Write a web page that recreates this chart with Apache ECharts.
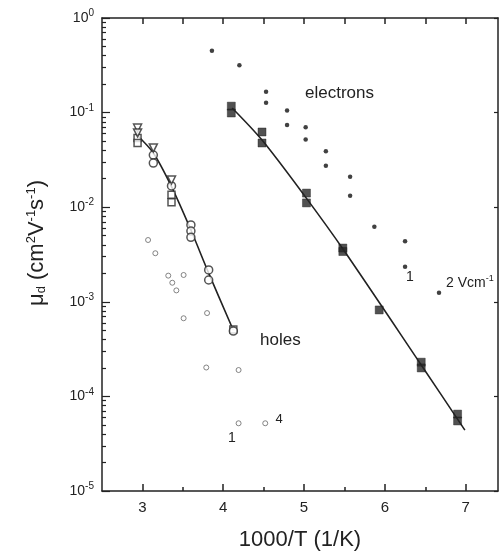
<!DOCTYPE html>
<html><head><meta charset="utf-8">
<script src="https://cdn.jsdelivr.net/npm/echarts@6/dist/echarts.min.js"></script>
<style>html,body{margin:0;padding:0;background:#fff}#c{width:500px;height:554px}</style>
</head><body><div id="c"></div>
<script>
// ---- data ----
const xMajorTicks = [3, 4, 5, 6, 7];
const xMinorTicks = [3.5, 4.5, 5.5, 6.5];
const yMajorTicks = [1e-5, 1e-4, 1e-3, 1e-2, 1e-1, 1];
const yMinorTicks = [2e-5,3e-5,4e-5,5e-5,6e-5,7e-5,8e-5,9e-5,
                     2e-4,3e-4,4e-4,5e-4,6e-4,7e-4,8e-4,9e-4,
                     2e-3,3e-3,4e-3,5e-3,6e-3,7e-3,8e-3,9e-3,
                     2e-2,3e-2,4e-2,5e-2,6e-2,7e-2,8e-2,9e-2,
                     0.2,0.3,0.4,0.5,0.6,0.7,0.8,0.9];

// electrons: fitted curve, measured points (filled squares), other-field dots
const electronFit = [[4.11,0.112],[4.48,0.0513],[5.01,0.0131],[5.49,0.00353],[6.45,2.15e-4],[6.99,4.4e-5]];
const electronSquares = [[4.10,0.117],[4.10,0.099],[4.48,0.0624],[4.48,0.0477],[5.03,0.0141],[5.03,0.0111],
                         [5.48,0.0037],[5.48,0.0034],[5.93,8.2e-4],[6.45,2.3e-4],[6.45,2.0e-4],[6.90,6.5e-5],[6.90,5.5e-5]];
const electronDots = [[3.86,0.45],[4.20,0.316],[4.53,0.166],[4.53,0.127],[4.79,0.105],[4.79,0.074],
                      [5.02,0.070],[5.02,0.052],[5.27,0.039],[5.27,0.0275],[5.57,0.021],[5.57,0.0132],
                      [5.87,0.0062],[6.25,0.00436],[6.25,0.00235],[6.67,0.00125]];

// holes: fitted curve, measured points (open triangles, squares, circles), other-field open circles
const holeFit = [[2.92,0.0594],[3.135,0.0374],[3.36,0.0165],[3.60,0.00574],[3.82,0.00201],[4.125,5.0e-4]];
const holeTriangles = [[2.94,0.0687],[2.94,0.061],[3.135,0.0423],[3.36,0.0194]];
const holeSquares = [[2.94,0.054],[2.94,0.0477],[3.36,0.0135],[3.36,0.0113],[4.125,5.1e-4]];
const holeCircles = [[3.135,0.0356],[3.135,0.0293],[3.36,0.0168],[3.60,0.0065],[3.60,0.0056],[3.60,0.0048],
                     [3.82,0.00217],[3.82,0.0017],[4.125,4.9e-4]];
const holeSmall = [[3.07,0.0045],[3.16,0.00326],[3.32,0.00189],[3.51,0.00192],[3.37,0.00159],[3.42,0.00132],
                   [3.51,6.7e-4],[3.80,7.6e-4],[3.79,2.02e-4],[4.19,1.9e-4],[4.19,5.2e-5],[4.52,5.2e-5]];

// ---- chart ----
const ink = '#222';
const font = '"Liberation Sans", Arial, sans-serif';
const chart = echarts.init(document.getElementById('c'), null, {renderer:'canvas'});

function xAxisDef(pos, ticks, len, showLine, showLabel) {
  return {
    type:'value', min:2.5, max:7.4, position:pos,
    axisLine:{show:showLine, lineStyle:{color:ink, width:1.5}},
    axisTick:{show:true, inside:true, length:len, customValues:ticks, lineStyle:{color:ink, width:1.5}},
    axisLabel:showLabel ? {show:true, customValues:ticks, margin:9, fontSize:15, color:ink, fontFamily:font} : {show:false},
    splitLine:{show:false}
  };
}
function yAxisDef(pos, ticks, len, showLine, showLabel) {
  return {
    type:'log', logBase:10, min:1e-5, max:1, position:pos,
    axisLine:{show:showLine, lineStyle:{color:ink, width:1.5}},
    axisTick:{show:true, inside:true, length:len, customValues:ticks, lineStyle:{color:ink, width:1.2}},
    axisLabel:showLabel ? {
      show:true, customValues:ticks, margin:8, color:ink, fontFamily:font,
      formatter:function(v){ const e = Math.round(Math.log10(v)); return '{b|10}{s|' + (e===0?'0':e) + '}'; },
      rich:{
        b:{fontSize:14, color:ink, fontFamily:font, lineHeight:18},
        s:{fontSize:10, color:ink, fontFamily:font, lineHeight:18, padding:[0,0,9,0]}
      }
    } : {show:false},
    splitLine:{show:false}
  };
}

const openSym = {color:'#fff', borderColor:'#2a2a2a', borderWidth:1.5};

chart.setOption({
  animation:false,
  backgroundColor:'#fff',
  grid:{left:102, right:2, top:18, bottom:63},
  xAxis:[
    xAxisDef('bottom', xMajorTicks, 7, true, true),
    xAxisDef('bottom', xMinorTicks, 4, false, false),
    xAxisDef('top', xMajorTicks.concat(xMinorTicks), 6, true, false)
  ],
  yAxis:[
    yAxisDef('left', yMajorTicks, 8, true, true),
    yAxisDef('left', yMinorTicks, 4, false, false),
    yAxisDef('right', yMajorTicks, 4, true, false)
  ],
  series:[
    {type:'line', data:electronFit, smooth:0.3, showSymbol:false, symbol:'none', lineStyle:{color:ink, width:1.6}, z:2},
    {type:'line', data:holeFit, smooth:0.3, showSymbol:false, symbol:'none', lineStyle:{color:ink, width:1.6}, z:2},
    {type:'scatter', data:electronDots, symbol:'circle', symbolSize:4.5, itemStyle:{color:'#111'}, z:3},
    {type:'scatter', data:electronSquares, symbol:'rect', symbolSize:[8,8], itemStyle:{color:'#262626', borderColor:'#1a1a1a', borderWidth:0.5}, z:3},
    {type:'scatter', data:holeSmall, symbol:'circle', symbolSize:5, itemStyle:{color:'#fff', borderColor:'#666', borderWidth:1}, z:3},
    {type:'scatter', data:holeSquares, symbol:'rect', symbolSize:7, itemStyle:openSym, z:4},
    {type:'scatter', data:holeCircles, symbol:'circle', symbolSize:8, itemStyle:openSym, z:4},
    {type:'scatter', data:holeTriangles, symbol:'triangle', symbolRotate:180, symbolSize:8, itemStyle:openSym, z:4}
  ],
  graphic:[
    {type:'text', x:37, y:243, rotation:Math.PI/2, style:{
      text:'{m|μ}{sb|d}{m| (cm}{sp|2}{m|V}{sp|-1}{m|s}{sp|-1}{m|)}',
      align:'center', verticalAlign:'middle',
      rich:{
        m:{fontSize:22, fontFamily:font, fill:ink, lineHeight:26},
        sp:{fontSize:13, fontFamily:font, fill:ink, lineHeight:26, padding:[0,0,12,0]},
        sb:{fontSize:13, fontFamily:font, fill:ink, lineHeight:26, padding:[8,0,0,0]}
      }}},
    {type:'text', x:300, y:540, style:{text:'1000/T (1/K)', fontSize:22, fontFamily:font, fill:ink, align:'center', verticalAlign:'middle'}},
    {type:'text', x:305, y:93, style:{text:'electrons', fontSize:17, fontFamily:font, fill:ink, align:'left', verticalAlign:'middle'}},
    {type:'text', x:260, y:340, style:{text:'holes', fontSize:17, fontFamily:font, fill:ink, align:'left', verticalAlign:'middle'}},
    {type:'text', x:410, y:277, style:{text:'1', fontSize:14, fontFamily:font, fill:ink, align:'center', verticalAlign:'middle'}},
    {type:'text', x:446, y:283, style:{
      text:'{m|2 Vcm}{sp|-1}', align:'left', verticalAlign:'middle',
      rich:{
        m:{fontSize:14, fontFamily:font, fill:ink, lineHeight:18},
        sp:{fontSize:9, fontFamily:font, fill:ink, lineHeight:18, padding:[0,0,8,0]}
      }}},
    {type:'text', x:232, y:438, style:{text:'1', fontSize:14, fontFamily:font, fill:ink, align:'center', verticalAlign:'middle'}},
    {type:'text', x:279, y:419, style:{text:'4', fontSize:13, fontFamily:font, fill:ink, align:'center', verticalAlign:'middle'}}
  ]
});
</script>
</body></html>
